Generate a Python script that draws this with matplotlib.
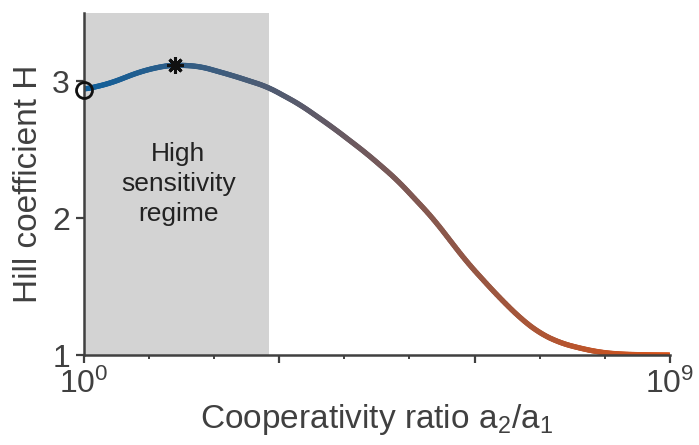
import numpy as np
import matplotlib
matplotlib.use('Agg')
import matplotlib.pyplot as plt
from matplotlib.collections import LineCollection
from matplotlib.colors import to_rgb
from matplotlib.ticker import FixedLocator, NullFormatter

plt.rcParams['font.family'] = 'Liberation Sans'
plt.rcParams['mathtext.fontset'] = 'custom'
plt.rcParams['mathtext.rm'] = 'Liberation Sans'
plt.rcParams['mathtext.it'] = 'Liberation Sans:italic'

# curve (log10 of ratio, Hill coefficient)
log_ratio = [0.0, 0.4, 0.86, 1.2, 1.4, 1.78, 2.30, 2.82, 3.32, 3.83, 4.35, 4.81,
             5.36, 5.88, 6.34, 6.70, 7.00, 7.31, 7.62, 7.93, 8.23, 8.6, 9.0]
hill = [2.94, 2.985, 3.07, 3.11, 3.12, 3.11, 3.04, 2.96, 2.83, 2.66, 2.47, 2.28,
        2.00, 1.68, 1.44, 1.27, 1.16, 1.09, 1.05, 1.02, 1.007, 1.002, 1.0]
start_pt = (1.0, 2.94)
peak_pt = (10**1.4, 3.12)
shade_end = 10**2.84
axis_col = '#404040'
c_start = '#0e5f9c'
c_end = '#d95319'

# smooth the read points in log space for drawing
xs = np.linspace(0, 9, 400)
ys = np.interp(xs, log_ratio, hill)
k = 15
kern = np.ones(k) / k
ys_s = np.convolve(np.pad(ys, k // 2, mode='edge'), kern, mode='valid')
xx = 10**xs

fig = plt.figure(figsize=(6.99, 4.45), dpi=100)
ax = fig.add_axes([0.120, 0.202, 0.8385, 0.769])

ax.axvspan(1, shade_end, color='#d3d3d3', lw=0, zorder=0)

pts = np.column_stack([xx, ys_s]).reshape(-1, 1, 2)
segs = np.concatenate([pts[:-1], pts[1:]], axis=1)
t = np.linspace(0, 1, len(segs))[:, None]
cols = (1 - t) * np.array(to_rgb(c_start)) + t * np.array(to_rgb(c_end))
lc = LineCollection(segs, colors=cols, linewidths=3.8, capstyle='round', zorder=2)
ax.add_collection(lc)

ax.plot(*start_pt, 'o', mfc='none', mec='#111111', ms=11.5, mew=2, clip_on=False, zorder=4)
ax.plot(*peak_pt, marker=(8, 2, 0), color='#111111', ms=12, mew=2.2, zorder=4)

ax.text(10**1.45, 2.25, 'High\nsensitivity\nregime', ha='center', va='center',
        fontsize=19, color='#222222', linespacing=1.3)

ax.set_xscale('log')
ax.set_xlim(1, 1e9)
ax.set_ylim(1, 3.5)

ax.xaxis.set_major_locator(FixedLocator([1, 1e3, 1e6, 1e9]))
ax.set_xticklabels([r'$\mathregular{10^0}$', '', '', r'$\mathregular{10^9}$'])
ax.xaxis.set_minor_locator(FixedLocator([10, 100, 1e4, 1e5, 1e7, 1e8]))
ax.xaxis.set_minor_formatter(NullFormatter())
ax.set_yticks([1, 2, 3])

for s in ['top', 'right']:
    ax.spines[s].set_visible(False)
for s in ['left', 'bottom']:
    ax.spines[s].set_color(axis_col)
    ax.spines[s].set_linewidth(1.8)

ax.tick_params(which='major', direction='out', length=6, width=1.6, color=axis_col,
               labelcolor=axis_col, labelsize=23, pad=4)
ax.tick_params(which='minor', direction='out', length=3, width=1.4, color=axis_col)

ax.set_xlabel(r'Cooperativity ratio a$\mathregular{_2}$/a$\mathregular{_1}$',
              fontsize=24, color=axis_col, labelpad=1)
ax.set_ylabel('Hill coefficient H', fontsize=24, color=axis_col, labelpad=6)

fig.savefig('out.png', dpi=100)
